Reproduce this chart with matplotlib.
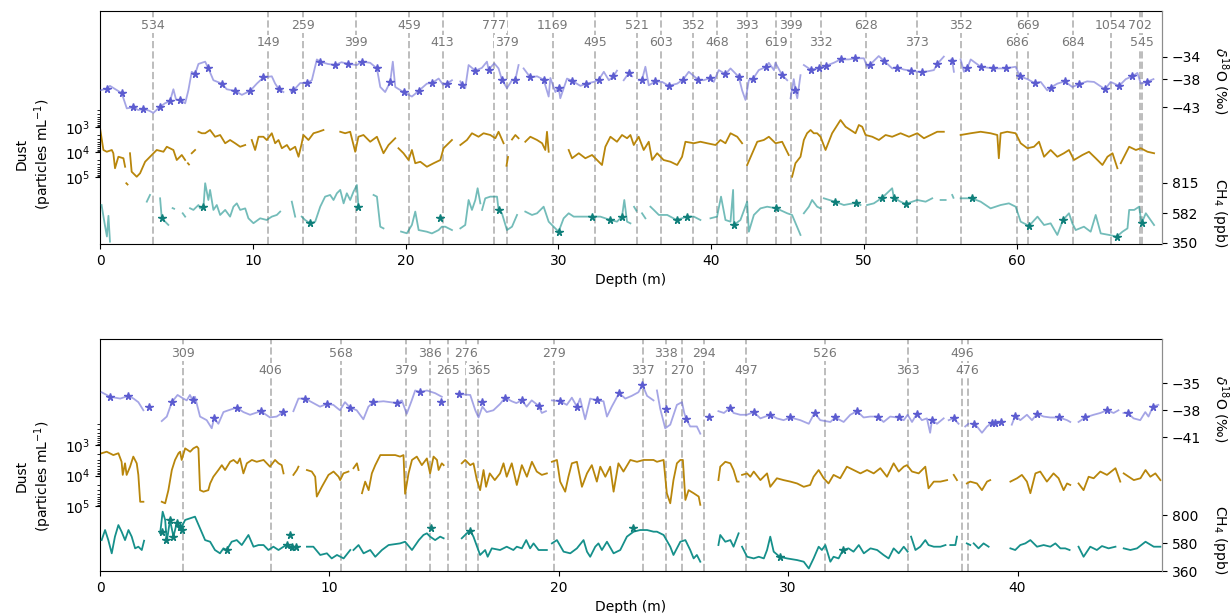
import numpy as np
import matplotlib.pyplot as plt
from matplotlib.ticker import FixedLocator, NullFormatter

nan = float('nan')
GAP = (nan, nan)

# ---------------- upper panel (0-69 m) ----------------
# (depth m, d18O permil)
top_o18 = [(0.0, -40.0), (0.44, -39.7), (0.65, -39.2), (1.0, -39.8), (1.42, -40.5), (1.75, -43.2),
           (2.18, -43.0), (2.5, -43.5), (2.84, -43.3), (3.2, -43.6), (3.49, -44.0), (3.93, -42.9),
           (4.25, -42.3), (4.58, -41.9), (4.8, -39.8), (4.98, -41.7), (5.24, -41.7), (5.57, -42.3),
           (5.78, -40.0), (6.0, -36.7), (6.22, -37.1), (6.44, -35.3), (6.88, -34.9), (7.09, -36.1),
           (7.42, -38.2), (7.97, -38.8), (8.29, -39.8), (8.84, -40.1), (9.28, -40.8), (9.82, -40.1),
           (10.26, -38.8), (10.69, -37.7), (11.24, -37.5), (11.46, -38.8), (11.68, -39.7), (12.0, -40.3),
           GAP, (12.5, -40.2), (12.66, -40.0), (13.1, -38.7), (13.53, -38.7), (13.86, -38.2),
           (14.19, -34.5), (14.41, -34.9), (14.9, -35.3), (15.39, -35.5), (15.8, -35.0), (16.26, -35.3),
           (16.81, -35.5), (17.13, -34.9), (17.68, -35.1), (18.12, -36.1), (18.34, -39.4), (18.66, -40.3),
           (18.99, -38.5), (19.16, -34.9), (19.32, -39.4), (19.86, -40.3), (20.41, -41.1), (20.85, -40.1),
           (21.39, -38.8), (21.72, -38.7), (22.16, -37.9), (22.45, -39.0), (22.7, -38.8), (23.03, -38.2),
           GAP, (23.58, -38.4), (23.69, -39.1), (23.9, -39.6), (24.12, -35.5), (24.56, -36.5),
           (24.99, -36.0), (25.32, -34.9), (25.43, -36.3), (25.8, -35.2), (26.08, -36.1), (26.3, -38.1),
           (26.63, -39.6), (26.96, -38.2), (27.18, -38.1), (27.39, -35.5), GAP, (27.72, -36.1),
           (28.16, -37.7), (28.6, -37.5), (29.03, -38.1), (29.36, -41.1), (29.47, -37.8), (29.8, -40.3),
           (30.01, -39.5), (30.12, -41.4), (30.56, -37.9), (30.89, -38.3), (31.44, -39.2), (31.83, -38.8),
           (32.31, -38.5), (32.64, -38.1), (32.97, -36.7), (33.3, -38.2), (33.6, -37.5), (33.83, -36.5),
           GAP, (34.27, -38.2), (34.59, -37.0), (34.82, -37.5), GAP, (35.25, -38.2), (35.47, -38.1),
           (35.69, -35.8), (35.91, -39.1), (36.35, -38.4), (36.79, -38.5), (37.22, -39.2), (37.77, -38.8),
           (38.15, -38.1), (38.53, -36.7), (39.14, -38.1), (39.5, -38.2), (39.94, -37.8), (40.16, -38.5),
           (40.49, -36.4), (40.93, -37.1), (41.26, -36.1), (41.8, -37.6), (42.02, -40.0), (42.24, -41.7),
           (42.46, -38.2), (42.72, -38.0), (43.11, -36.4), (43.61, -35.8), (43.77, -35.1), (44.1, -36.4),
           (44.2, -35.1), (44.64, -37.3), (44.97, -38.2), GAP, (45.19, -41.4), (45.4, -38.0),
           (45.51, -40.0), (45.63, -41.4), (45.84, -37.3), GAP, (46.06, -35.5), (46.5, -36.3),
           (47.04, -36.1), (47.54, -35.6), (48.02, -35.1), (48.46, -34.5), (49.0, -34.5), (49.44, -34.3),
           (49.99, -34.3), (50.2, -35.8), (50.37, -35.5), (50.96, -33.9), (51.29, -34.7), (51.84, -36.1),
           (52.17, -35.9), (52.6, -36.3), (53.05, -36.5), (53.81, -36.8), (54.57, -36.4), (54.79, -35.3),
           (55.22, -34.0), GAP, (55.7, -34.5), (55.77, -34.7), (55.88, -36.7), GAP, (56.32, -34.5),
           (56.54, -36.7), (56.76, -36.0), (56.98, -34.5), (57.63, -35.8), (58.46, -36.1), (59.27, -36.1),
           (59.92, -35.8), (60.2, -37.5), (60.69, -38.0), (61.16, -38.7), (61.56, -38.5), (61.99, -40.0),
           (62.21, -39.5), (62.65, -38.8), (63.13, -38.4), (63.63, -39.4), (64.07, -38.9), (64.6, -38.4),
           (65.05, -38.5), (65.77, -39.8), (66.14, -38.5), (66.69, -39.2), (67.13, -38.0), (67.56, -37.5),
           (67.89, -36.9), (68.11, -38.8), (68.5, -38.5), (68.94, -38.0)]

top_o18_stars = [(0.44, -39.7), (1.42, -40.5), (2.18, -43.0), (2.84, -43.3), (3.93, -42.9), (4.58, -41.9),
                 (5.24, -41.7), (6.22, -37.1), (7.09, -36.1), (7.97, -38.8), (8.84, -40.1), (9.82, -40.1),
                 (10.69, -37.7), (11.68, -39.7), (12.66, -40.0), (13.53, -38.7), (14.41, -34.9), (15.39, -35.5),
                 (16.26, -35.3), (17.13, -34.9), (18.12, -36.1), (18.99, -38.5), (19.86, -40.3), (20.85, -40.1),
                 (21.72, -38.7), (22.7, -38.8), (23.69, -39.1), (24.56, -36.5), (25.43, -36.3), (26.3, -38.1),
                 (27.18, -38.1), (28.16, -37.7), (29.03, -38.1), (30.01, -39.5), (30.89, -38.3), (31.83, -38.8),
                 (32.64, -38.1), (33.6, -37.5), (34.59, -37.0), (35.47, -38.1), (36.35, -38.4), (37.22, -39.2),
                 (38.15, -38.1), (39.14, -38.1), (39.94, -37.8), (40.93, -37.1), (41.8, -37.6), (42.72, -38.0),
                 (43.61, -35.8), (44.64, -37.3), (45.51, -40.0), (46.5, -36.3), (47.04, -36.1), (47.54, -35.6),
                 (48.46, -34.5), (49.44, -34.3), (50.37, -35.5), (51.29, -34.7), (52.17, -36.0), (53.05, -36.5),
                 (53.81, -36.8), (54.79, -35.3), (55.77, -34.7), (56.76, -36.0), (57.63, -35.8), (58.46, -36.1),
                 (59.27, -36.1), (60.2, -37.5), (61.16, -38.7), (62.21, -39.5), (63.13, -38.4), (64.07, -38.9),
                 (65.77, -39.8), (66.69, -39.2), (67.56, -37.5), (68.5, -38.5)]

# (depth m, log10 dust particles per mL)
top_dust = [(0.0, 3.05), (0.22, 3.92), (0.44, 3.99), (0.77, 3.92), (0.87, 4.05), (0.98, 4.65), (1.2, 4.19),
            (1.53, 4.25), (1.64, 4.59), GAP, (1.72, 5.25), (1.8, 5.3), GAP, (1.96, 4.05), (2.07, 4.79),
            (2.4, 4.99), (2.62, 4.85), (2.95, 4.39), (3.27, 4.19), (3.71, 3.92), (4.15, 3.99), (4.37, 3.79),
            (4.8, 3.92), (5.02, 4.32), (5.35, 4.12), (5.57, 4.32), GAP, (5.75, 4.45), (5.82, 4.5), GAP,
            (6.0, 4.05), (6.22, 3.92), GAP, (6.44, 3.19), (6.66, 3.25), (6.88, 3.25), (7.2, 3.12),
            (7.53, 3.39), (7.86, 3.32), (8.19, 3.65), (8.51, 3.52), (8.84, 3.65), (9.17, 3.79), (9.5, 3.72),
            GAP, (9.93, 3.52), (10.15, 3.92), (10.37, 3.39), (10.69, 3.39), (10.91, 3.52), (11.24, 3.25),
            (11.46, 3.65), (11.68, 3.52), (11.9, 3.85), (12.23, 3.72), (12.44, 3.92), (12.77, 3.79),
            (12.99, 4.19), (13.2, 3.65), (13.31, 3.32), (13.64, 3.52), (13.97, 3.25), (14.3, 3.19),
            (14.62, 3.12), GAP, (15.72, 3.19), (16.04, 3.25), (16.37, 3.19), (16.7, 3.99), (16.91, 3.39),
            (17.24, 3.32), (17.68, 3.59), (18.12, 3.39), (18.55, 4.05), (18.88, 3.72), (19.32, 3.45), GAP,
            (19.53, 3.85), (19.86, 4.05), (20.19, 4.32), (20.41, 3.92), (20.63, 4.45), (20.96, 4.39),
            (21.39, 4.59), (21.83, 4.45), (22.27, 4.32), (22.48, 3.85), (23.03, 3.52), GAP, (23.58, 3.72),
            (24.01, 3.52), (24.34, 3.25), (24.77, 3.39), (25.1, 3.25), (25.54, 3.32), (25.87, 3.45),
            (26.08, 3.19), (26.41, 3.65), GAP, (26.6, 4.55), (26.7, 4.2), GAP, (26.96, 3.5), (27.18, 3.32),
            (27.39, 3.45), GAP, (27.83, 3.59), (28.16, 3.39), (28.6, 3.52), (28.93, 3.65), (29.14, 3.92),
            (29.25, 3.19), (29.36, 3.99), GAP, (30.67, 3.92), (30.89, 4.25), (31.33, 4.05), (31.76, 4.25),
            (32.2, 4.12), (32.52, 4.32), (32.85, 4.52), (33.07, 3.79), (33.4, 3.39), (33.83, 3.59),
            (34.16, 3.32), (34.49, 3.45), (34.71, 3.32), (34.93, 3.72), (35.25, 3.39), (35.58, 3.92),
            (35.91, 3.59), (36.13, 4.32), (36.46, 4.05), (36.88, 4.32), (37.33, 4.39), (37.77, 4.52),
            (38.09, 4.19), (38.31, 3.59), (38.86, 3.65), (39.29, 3.59), (39.73, 3.65), (40.28, 3.72),
            (40.6, 3.52), (40.93, 3.65), (41.26, 3.25), (41.7, 3.39), (42.02, 3.65), GAP, (42.35, 4.52),
            (42.68, 4.05), (43.01, 3.59), (43.44, 3.52), (43.77, 3.39), (44.21, 3.65), (44.64, 3.59),
            (45.07, 4.12), GAP, (45.29, 4.99), (45.51, 4.45), (45.84, 4.19), (46.06, 3.52), (46.27, 3.25),
            (46.5, 3.12), (46.71, 3.25), (46.93, 3.25), (47.15, 3.39), (47.48, 3.92), (47.91, 3.25),
            (48.46, 2.72), (48.79, 2.99), (49.12, 3.12), (49.44, 3.25), (49.66, 2.92), (49.88, 2.99),
            (50.1, 3.32), (50.54, 3.39), (50.97, 3.52), (51.41, 3.32), (51.84, 3.39), (52.39, 3.25),
            (52.94, 3.39), (53.48, 3.25), (53.92, 3.45), (54.36, 3.32), (54.79, 3.19), (55.22, 3.19), GAP,
            (56.32, 3.32), (56.98, 3.25), (57.63, 3.19), (58.28, 3.25), (58.72, 3.32), (58.82, 4.25),
            (58.94, 3.25), (59.37, 3.19), (59.92, 3.25), (60.25, 3.65), (60.69, 3.85), (61.12, 3.79),
            (61.45, 3.59), (61.78, 4.19), (62.21, 3.92), (62.65, 4.19), (63.08, 4.05), (63.41, 3.92),
            (63.74, 4.32), (64.29, 4.12), (64.72, 3.99), (65.16, 4.25), (65.6, 4.52), (65.93, 4.19),
            (66.26, 4.05), (66.58, 4.65), GAP, (66.8, 4.45), (67.13, 4.05), (67.35, 3.79), (67.79, 3.92),
            (68.11, 3.85), (68.55, 3.99), (68.98, 4.05)]

# (depth m, CH4 ppb)
top_ch4 = [(0.1, 644), (0.3, 500), (0.45, 400), (0.55, 560), (0.65, 360), GAP, (3.06, 670), (3.27, 722), GAP,
           (3.93, 696), (4.04, 541), (4.26, 515), (4.47, 490), GAP, (4.75, 620), (4.85, 615), GAP,
           (5.41, 580), (5.57, 554), GAP, (5.89, 619), (6.11, 606), (6.44, 644), (6.55, 618), (6.77, 631),
           (6.88, 813), (7.09, 683), (7.2, 761), (7.42, 606), (7.64, 644), (7.86, 567), (8.19, 606),
           (8.51, 554), (8.73, 631), (8.95, 657), (9.17, 606), (9.5, 618), (9.71, 541), (10.04, 503),
           (10.48, 541), (10.91, 528), (11.24, 554), (11.57, 567), (11.79, 593), GAP, (12.55, 670),
           (12.77, 554), GAP, (13.2, 554), (13.42, 528), (13.75, 502), (14.08, 515), (14.41, 631),
           (14.73, 709), (15.06, 722), (15.28, 683), (15.5, 735), (15.72, 761), (15.94, 657), (16.15, 735),
           (16.37, 683), (16.59, 748), (16.81, 799), (16.91, 631), GAP, (17.9, 722), (18.12, 709),
           (18.34, 476), (18.55, 463), GAP, (19.7, 438), (20.08, 425), (20.41, 490), (20.63, 593),
           (20.85, 450), (21.39, 437), (21.72, 424), (22.16, 450), (22.37, 476), (22.59, 476), (23.03, 450),
           GAP, (23.58, 463), (23.9, 489), (24.12, 683), (24.34, 606), (24.56, 683), (24.71, 774),
           (24.89, 657), GAP, (25.0, 606), (25.21, 696), (25.54, 709), (25.98, 709), (26.08, 606),
           (26.3, 580), (26.63, 450), (26.96, 476), (27.29, 567), GAP, (27.83, 593), (28.27, 567),
           (28.6, 580), (29.03, 631), (29.36, 515), (29.69, 476), (30.01, 437), (30.34, 541), (30.67, 580),
           (31.0, 554), (31.55, 554), (32.2, 554), (32.74, 554), (33.4, 528), (33.83, 515), (34.16, 554),
           (34.31, 683), (34.49, 515), (34.71, 502), GAP, (34.95, 630), (35.1, 600), GAP, (35.47, 580),
           (35.69, 541), GAP, (36.02, 631), (36.24, 606), (36.57, 567), (37.12, 567), (37.73, 528),
           (38.43, 554), (38.86, 554), (39.29, 528), GAP, (39.95, 541), (40.38, 554), (40.64, 709),
           (40.93, 528), (41.26, 515), (41.43, 761), (41.48, 489), (41.91, 528), (42.35, 670), (42.46, 437),
           (42.79, 567), (43.22, 618), (43.66, 631), (44.27, 618), (44.97, 580), (45.29, 567), (45.84, 412),
           GAP, (46.06, 580), (46.39, 631), (46.6, 683), (46.93, 631), (47.15, 618), GAP, (47.37, 696),
           (48.09, 670), (48.68, 644), (49.5, 662), (49.77, 644), GAP, (50.2, 644), (50.64, 657),
           (51.19, 701), (51.84, 774), (51.95, 701), (52.39, 670), (52.72, 652), (53.16, 670), (53.48, 683),
           (54.03, 670), (54.46, 696), GAP, (55.01, 683), (55.34, 683), GAP, (55.77, 722), (55.85, 700),
           GAP, (56.32, 696), (57.04, 696), (57.63, 670), (58.28, 618), (58.94, 644), (59.48, 657),
           (59.92, 631), (60.25, 515), (60.8, 482), (61.35, 554), (61.78, 489), (62.21, 502), (62.65, 412),
           (63.02, 528), (63.41, 580), (63.63, 502), (63.85, 450), (64.39, 476), (64.83, 437), (65.16, 567),
           (65.49, 424), (66.04, 412), (66.54, 399), (66.91, 437), (67.24, 463), (67.35, 606), (67.68, 606),
           (68.0, 631), (68.16, 502), (68.44, 580), (68.98, 489)]

top_ch4_stars = [(4.04, 541), (6.77, 631), (13.75, 502), (16.91, 631), (22.22, 541), (26.08, 606),
                 (30.01, 437), (32.2, 554), (33.4, 528), (34.16, 554), (37.73, 528), (38.43, 554),
                 (41.48, 489), (44.27, 618), (48.09, 670), (49.5, 662), (51.19, 701), (51.95, 701),
                 (52.72, 652), (57.04, 696), (60.8, 482), (63.02, 528), (66.54, 399), (68.16, 502)]

top_marks = [3.44, 11.02, 13.27, 16.72, 20.24, 22.42, 25.8, 26.63, 29.62, 32.41, 35.14, 36.74, 38.79,
             40.38, 42.35, 44.22, 45.23, 47.19, 50.12, 53.47, 56.37, 59.99, 60.75, 63.67, 66.14, 68.06, 68.21]
top_mark_labels = ['534', '149', '259', '399', '459', '413', '777', '379', '1169', '495', '521', '603', '352',
                   '468', '393', '619', '399', '332', '628', '373', '352', '686', '669', '684', '1054', '702', '545']
top_mark_rows = [0, 1, 0, 1, 0, 1, 0, 1, 0, 1, 0, 1, 0, 1, 0, 1, 0, 1, 0, 1, 0, 1, 0, 1, 0, 0, 1]

# ---------------- lower panel (0-46 m) ----------------
bot_o18 = [(0.07, -36.0), (0.44, -36.5), (0.88, -36.7), (1.24, -36.4), (1.46, -36.7), (1.67, -37.1),
           (1.89, -38.0), GAP, (2.69, -39.2), (2.91, -38.7), (3.13, -37.1), (3.38, -36.3), (3.63, -36.7),
           (3.78, -36.9), (3.92, -36.3), (4.04, -36.9), (4.14, -36.5), (4.36, -38.7), (4.65, -39.1),
           (4.87, -40.0), (4.97, -38.9), (5.16, -39.5), (5.38, -38.2), (5.6, -38.0), (5.96, -37.7),
           (6.25, -38.2), (6.54, -38.5), (7.01, -38.1), (7.41, -38.8), (7.7, -38.7), (7.99, -38.2),
           (8.07, -38.6), GAP, (8.43, -38.1), (8.65, -36.7), (8.94, -36.7), (9.3, -37.2), (9.59, -37.6),
           (9.88, -37.3), (10.17, -37.4), (10.46, -38.0), (10.68, -37.1), (10.9, -37.7), (11.19, -38.0),
           (11.48, -39.0), (11.7, -37.6), (11.92, -37.1), (12.36, -37.0), (12.94, -37.2), (13.16, -36.9),
           (13.37, -38.4), (13.59, -36.9), (13.74, -35.8), (13.96, -36.0), (14.25, -35.8), (14.61, -36.1),
           (14.9, -36.5), GAP, (15.55, -36.2), (15.63, -36.2), (16.14, -36.3), (16.36, -38.0), (16.5, -38.8),
           (16.67, -37.6), (16.86, -38.2), (17.15, -38.0), (17.44, -37.3), (17.66, -36.6), (17.95, -37.0),
           (18.15, -37.2), (18.39, -36.9), (18.6, -37.6), (18.82, -36.9), (19.12, -37.5), (19.26, -38.3),
           (19.44, -38.1), GAP, (19.7, -36.9), (20.06, -37.0), (20.35, -37.4), (20.57, -36.6), (20.79, -37.6),
           (20.93, -36.7), (21.15, -39.0), (21.37, -36.7), (21.66, -36.9), (21.95, -37.0), (22.1, -38.7),
           (22.31, -37.6), (22.63, -36.1), (22.9, -36.7), (23.18, -36.4), (23.47, -36.0), (23.65, -35.2),
           (23.85, -36.4), (24.13, -36.9), GAP, (24.28, -35.8), (24.42, -37.8), (24.64, -40.0),
           (24.86, -39.6), (25.15, -37.4), (25.37, -37.1), (25.47, -38.3), (25.56, -39.0), (25.73, -39.8),
           (26.02, -39.8), (26.17, -40.6), GAP, (26.96, -38.1), (27.2, -38.3), (27.48, -37.7), (27.62, -38.3),
           (27.91, -38.5), (28.2, -38.5), (28.5, -38.2), (28.79, -38.9), (29.22, -38.5), (29.51, -38.9),
           (29.8, -39.1), (30.1, -38.8), (30.53, -39.1), (30.9, -39.5), (31.15, -38.3), (31.4, -39.1),
           (31.84, -39.3), (32.05, -38.8), (32.42, -39.3), (32.71, -38.5), (33.0, -38.1), (33.29, -38.8),
           (33.58, -38.7), (33.9, -38.7), (34.16, -39.3), (34.45, -38.7), (34.75, -38.8), (35.04, -39.1),
           (35.21, -38.5), (35.4, -39.3), (35.61, -38.4), (35.83, -39.1), (36.05, -38.9), (36.19, -40.5),
           (36.27, -39.1), (36.49, -39.5), (36.78, -38.9), GAP, (37.0, -39.1), (37.21, -38.9),
           (37.43, -39.5), GAP, (37.72, -39.8), (37.86, -39.5), GAP, (38.09, -39.5), (38.23, -39.8),
           (38.45, -40.5), (38.67, -39.8), (38.88, -39.4), (39.03, -39.4), (39.28, -39.3), (39.4, -39.3),
           GAP, (39.75, -39.6), (39.9, -38.6), (40.12, -39.1), (40.41, -38.5), (40.63, -39.1), (40.85, -38.4),
           (41.14, -38.7), (41.43, -38.8), (41.82, -38.8), (42.16, -39.1), (42.3, -39.3), GAP, (42.66, -39.3),
           (42.95, -38.8), (43.32, -38.5), (43.61, -38.3), (43.9, -38.0), (44.19, -38.3), (44.4, -38.0),
           GAP, (44.62, -38.3), (44.8, -38.3), (45.06, -38.9), (45.35, -39.1), (45.57, -38.2),
           (45.71, -38.7), (45.9, -37.6), (46.14, -37.4)]

bot_o18_stars = [(0.44, -36.5), (1.24, -36.4), (2.15, -37.6), (3.13, -37.1), (4.04, -36.9), (4.97, -38.9),
                 (5.96, -37.7), (7.01, -38.1), (7.99, -38.2), (8.94, -36.7), (9.88, -37.3), (10.9, -37.7),
                 (11.92, -37.1), (12.94, -37.2), (13.96, -36.0), (14.86, -37.1), (15.63, -36.2), (16.67, -37.1),
                 (17.66, -36.6), (18.39, -36.9), (19.12, -37.5), (20.06, -37.0), (20.79, -37.6), (21.66, -36.9),
                 (22.63, -36.1), (23.65, -35.2), (24.67, -37.9), (25.56, -39.0), (26.53, -38.8), (27.48, -37.7),
                 (28.5, -38.2), (29.22, -38.5), (30.1, -38.8), (31.15, -38.3), (32.05, -38.8), (33.0, -38.1),
                 (33.9, -38.7), (34.82, -38.8), (35.61, -38.4), (36.27, -39.1), (37.21, -38.9), (38.09, -39.5),
                 (38.88, -39.4), (39.03, -39.4), (39.28, -39.3), (39.9, -38.6), (40.85, -38.4), (41.82, -38.8),
                 (42.95, -38.8), (43.9, -38.0), (44.8, -38.3), (45.9, -37.6)]

bot_dust = [(0.07, 3.27), (0.29, 3.22), (0.58, 3.33), (0.8, 3.27), (0.94, 3.55), (0.99, 3.98), (1.09, 3.6),
            (1.16, 3.98), (1.31, 3.71), (1.45, 3.38), (1.6, 3.6), (1.67, 3.98), (1.75, 4.86), (1.89, 4.86),
            GAP, (2.69, 4.86), (2.84, 4.91), (2.98, 4.48), (3.13, 3.82), (3.27, 3.49), (3.42, 3.27),
            (3.49, 3.22), (3.56, 3.49), (3.71, 3.11), (3.93, 3.22), (4.07, 3.11), (4.22, 3.05), (4.29, 3.11),
            (4.36, 4.48), (4.51, 4.53), (4.72, 4.48), (4.8, 4.26), (4.94, 4.04), (5.16, 3.82), (5.31, 3.66),
            (5.45, 3.82), (5.67, 3.55), (5.82, 3.49), (5.99, 3.6), (6.1, 3.44), (6.25, 3.93), (6.4, 3.6),
            (6.62, 3.49), (6.83, 3.55), (7.13, 3.49), (7.27, 3.6), (7.41, 3.71), (7.63, 3.49), (7.78, 3.6),
            (7.92, 3.66), (8.0, 3.93), GAP, (8.43, 3.98), (8.58, 3.82), (8.65, 3.71), GAP, (9.02, 3.82),
            (9.23, 3.87), (9.38, 4.04), (9.45, 4.69), (9.67, 4.37), (9.96, 3.98), (10.18, 3.87), (10.4, 4.04),
            (10.47, 4.15), (10.61, 3.93), (10.83, 3.87), GAP, (11.05, 3.76), (11.2, 3.6), (11.27, 3.82), GAP,
            (11.42, 4.58), (11.56, 4.2), (11.71, 4.48), (11.85, 3.93), (12.0, 3.66), (12.22, 3.33),
            (12.51, 3.33), (12.87, 3.33), (13.08, 3.38), (13.23, 3.33), (13.3, 4.6), (13.45, 3.93),
            (13.6, 3.49), (13.81, 3.38), (14.03, 3.66), (14.25, 3.44), (14.39, 3.93), (14.54, 3.38),
            (14.69, 3.49), (14.76, 3.82), (14.9, 3.6), (14.98, 3.66), GAP, (15.77, 3.6), (15.92, 3.49),
            (16.14, 3.66), (16.28, 3.6), (16.43, 4.15), (16.57, 4.48), (16.72, 3.82), (16.83, 4.37),
            (16.99, 3.93), (17.21, 4.15), (17.44, 3.93), (17.59, 3.6), (17.73, 4.04), (17.95, 3.6),
            (18.17, 4.31), (18.39, 3.66), (18.61, 4.04), (18.83, 3.55), (19.04, 3.87), (19.26, 3.98),
            (19.48, 3.93), GAP, (19.7, 3.55), (19.92, 3.49), (20.06, 4.2), (20.28, 4.53), (20.42, 4.04),
            (20.57, 3.6), (20.79, 3.55), (21.01, 4.37), (21.23, 3.93), (21.44, 3.66), (21.66, 4.2),
            (21.81, 3.71), (22.03, 4.04), (22.24, 3.71), (22.39, 4.53), (22.6, 3.6), (22.82, 3.87),
            (23.12, 3.49), (23.41, 3.55), (23.7, 3.49), (24.13, 3.49), (24.28, 3.55), (24.57, 3.49),
            (24.71, 4.58), (24.86, 4.91), (25.0, 4.15), (25.15, 3.6), (25.3, 3.49), (25.41, 3.49),
            (25.52, 4.8), (25.66, 4.48), (25.88, 4.58), (26.1, 4.69), (26.17, 4.96), GAP, (26.96, 4.15),
            (27.04, 3.71), (27.26, 3.55), (27.48, 3.6), (27.62, 3.82), (27.77, 4.2), (27.84, 4.2), GAP,
            (27.99, 3.98), (28.21, 3.93), (28.35, 4.04), (28.5, 3.87), (28.79, 4.15), (29.08, 3.93),
            (29.22, 4.37), (29.51, 4.09), (29.8, 4.15), (30.1, 4.2), (30.39, 4.26), (30.68, 4.37),
            (30.96, 4.31), (31.11, 4.04), (31.33, 3.82), (31.55, 4.09), (31.76, 4.26), (31.98, 3.98),
            (32.27, 4.09), (32.56, 3.71), (32.85, 3.82), (33.15, 3.93), (33.44, 3.82), (33.73, 3.93),
            (34.02, 3.76), (34.31, 4.04), (34.6, 3.6), (34.82, 3.87), (35.04, 3.71), (35.18, 3.66),
            (35.4, 3.87), (35.69, 3.93), (35.98, 3.71), (36.12, 4.42), (36.35, 4.2), (36.64, 4.2),
            (36.93, 4.15), GAP, (37.22, 3.98), (37.36, 4.15), GAP, (37.79, 4.26), (37.94, 4.2), (38.23, 4.26),
            (38.45, 4.48), (38.67, 4.2), (38.81, 4.15), GAP, (39.69, 4.2), (39.98, 4.09), (40.19, 3.98),
            (40.41, 4.2), (40.56, 4.58), (40.78, 3.93), (40.99, 3.87), (41.28, 4.2), (41.57, 3.93),
            (41.79, 4.09), (42.01, 4.48), (42.16, 4.26), (42.3, 4.31), GAP, (42.66, 4.26), (42.88, 4.48),
            (43.1, 4.04), (43.32, 4.09), (43.61, 3.87), (43.9, 3.98), (44.27, 3.76), (44.48, 4.2), GAP,
            (44.63, 3.93), (44.85, 4.04), (45.07, 4.15), (45.36, 4.09), (45.58, 3.82), (45.79, 4.04),
            (46.01, 3.93), (46.23, 4.15)]

bot_ch4 = [(0.07, 603), (0.22, 682), (0.36, 603), (0.51, 499), (0.65, 630), (0.8, 721), (0.94, 669),
           (1.09, 603), (1.24, 682), (1.38, 630), (1.53, 538), (1.67, 551), (1.82, 525), (1.92, 598), GAP,
           (2.62, 656), (2.73, 826), (2.84, 761), (2.91, 590), (3.05, 761), (3.2, 630), (3.34, 734),
           (3.49, 682), (3.71, 761), (3.93, 774), (4.14, 787), (4.36, 695), (4.58, 603), (4.8, 590),
           (5.01, 525), (5.23, 499), (5.38, 538), (5.52, 525), (5.74, 590), (5.96, 603), (6.18, 564),
           (6.47, 643), (6.69, 551), (6.91, 564), (7.13, 564), (7.34, 525), (7.56, 551), (7.78, 525),
           (8.0, 551), (8.14, 564), (8.43, 525), GAP, (9.02, 551), (9.3, 551), (9.6, 486), (9.89, 499),
           (10.1, 459), (10.33, 486), (10.62, 459), (10.91, 525), GAP, (11.05, 525), (11.27, 564),
           (11.49, 499), (11.78, 525), (12.0, 472), (12.29, 525), (12.58, 564), (13.08, 577), (13.3, 590),
           (13.6, 525), (13.9, 603), (14.1, 643), (14.25, 656), (14.39, 630), (14.61, 603), (14.83, 630),
           (14.98, 617), GAP, (15.77, 617), (15.99, 656), (16.14, 677), (16.28, 630), (16.57, 486),
           (16.79, 525), (16.9, 472), (17.08, 538), (17.44, 525), (17.73, 551), (18.02, 525), (18.17, 551),
           (18.39, 538), (18.58, 603), (18.75, 538), (18.9, 577), (19.12, 525), (19.48, 525), GAP,
           (19.7, 577), (19.92, 603), (20.21, 512), (20.5, 499), (20.79, 538), (21.08, 603), (21.23, 512),
           (21.37, 472), (21.59, 551), (21.73, 577), (21.88, 525), (22.1, 590), (22.39, 499), (22.68, 525),
           (22.97, 630), (23.26, 669), (23.55, 682), (23.85, 682), (24.13, 669), (24.28, 669), (24.57, 643),
           (24.86, 551), (25.0, 486), (25.3, 590), (25.52, 603), (25.73, 525), (25.88, 459), (26.02, 486),
           (26.17, 433), GAP, (26.96, 564), (27.04, 643), (27.26, 590), (27.48, 603), (27.62, 551),
           (27.84, 656), GAP, (27.99, 551), (28.21, 472), (28.5, 459), (28.72, 472), (28.94, 459),
           (29.08, 525), (29.22, 630), (29.37, 512), (29.63, 472), (29.95, 459), (30.39, 446), (30.68, 433),
           (30.9, 380), (31.11, 459), (31.33, 551), (31.47, 525), (31.62, 564), (31.84, 433), (31.98, 472),
           (32.2, 459), (32.39, 525), (32.63, 538), (32.85, 512), (33.08, 564), (33.3, 499), (33.59, 538),
           (33.88, 525), (34.16, 486), (34.38, 459), (34.6, 538), (34.82, 499), (35.04, 551), (35.21, 512),
           GAP, (35.36, 630), (35.55, 525), (35.76, 551), (35.98, 603), (36.12, 564), (36.35, 551),
           (36.64, 551), (36.86, 564), GAP, (37.07, 564), (37.29, 564), (37.36, 630), GAP, (37.79, 577),
           (37.94, 564), GAP, (38.09, 577), (38.3, 538), (38.52, 577), (38.74, 551), GAP, (39.69, 538),
           (39.9, 525), (40.12, 564), (40.34, 577), (40.56, 603), (40.85, 551), (41.14, 564), (41.43, 551),
           (41.65, 577), (41.87, 538), (42.08, 538), (42.27, 525), GAP, (42.66, 551), (42.88, 472),
           (43.17, 551), (43.46, 525), (43.68, 556), (43.97, 538), (44.27, 551), GAP, (44.63, 538),
           (44.92, 525), (45.21, 538), (45.58, 590), (45.94, 551), (46.23, 551)]

bot_ch4_stars = [(2.7, 669), (2.86, 603), (3.05, 761), (3.2, 630), (3.34, 740), (3.49, 708), (3.56, 682),
                 (5.52, 525), (8.14, 564), (8.28, 643), (8.38, 551), (8.53, 551), (14.42, 695), (16.14, 677),
                 (23.22, 695), (29.63, 472), (32.39, 525)]

bot_marks = [3.63, 7.44, 10.5, 13.35, 14.39, 15.19, 15.95, 16.5, 19.8, 23.69, 24.67, 25.38, 26.35, 28.16,
             31.59, 35.21, 37.58, 37.83]
bot_mark_labels = ['309', '406', '568', '379', '386', '265', '276', '365', '279', '337', '338', '270', '294',
                   '497', '526', '363', '496', '476']
bot_mark_rows = [0, 1, 0, 1, 0, 1, 0, 1, 0, 1, 0, 1, 0, 1, 0, 1, 0, 1]


def xy(pairs):
    a = np.array(pairs, dtype=float)
    return a[:, 0], a[:, 1]


fig = plt.figure(figsize=(12.32, 6.13), dpi=100)


def draw_panel(rect, xmax, o18, o18_st, dust, ch4, ch4_st, ch4_alpha, marks, labels, rows,
               o18_lim, o18_ticks, dust_lim, ch4_lim, ch4_ticks, dust_label_y):
    ax = fig.add_axes(rect)
    ax_o = ax.twinx()
    ax_c = ax.twinx()

    # sample markers
    for x, lab, r in zip(marks, labels, rows):
        ax.axvline(x, color='#bdbdbd', ls='--', lw=1.4, zorder=0)
        ax.text(x, 0.937 if r == 0 else 0.866, lab, transform=ax.get_xaxis_transform(),
                ha='center', va='center', fontsize=9, color='#777777',
                bbox=dict(facecolor='white', edgecolor='none', pad=0.5), zorder=1)

    d, v = xy(dust)
    ax.plot(d, 10 ** v, color='#b8860b', lw=1.3, zorder=2)
    ax.set_yscale('log')
    ax.set_ylim(*dust_lim)
    ax.set_yticks([1e3, 1e4, 1e5])
    ax.yaxis.set_minor_locator(FixedLocator([k * 10.0 ** e for e in (2, 3, 4) for k in range(2, 10)]))
    ax.yaxis.set_minor_formatter(NullFormatter())
    ax.set_xlim(0, xmax)
    ax.set_xlabel('Depth (m)', fontsize=10)
    ax.tick_params(labelsize=10)
    ax.spines['right'].set_visible(False)
    ax.text(-0.062, dust_label_y, 'Dust\n(particles mL$^{-1}$)', transform=ax.transAxes, rotation=90,
            ha='center', va='center', multialignment='center', fontsize=10)

    d, v = xy(o18)
    ax_o.plot(d, v, color='#6a6ad5', alpha=0.6, lw=1.3)
    d, v = xy(o18_st)
    ax_o.plot(d, v, ls='none', marker='*', ms=5.5, color='#5c5cd0')
    ax_o.set_ylim(*o18_lim)
    ax_o.set_yticks(o18_ticks)

    d, v = xy(ch4)
    ax_c.plot(d, v, color='#16908b', alpha=ch4_alpha, lw=1.3)
    d, v = xy(ch4_st)
    ax_c.plot(d, v, ls='none', marker='*', ms=5.5, color='#0f7f7a')
    ax_c.set_ylim(*ch4_lim)
    ax_c.set_yticks(ch4_ticks)

    for tw in (ax_o, ax_c):
        for s in ('top', 'left', 'bottom'):
            tw.spines[s].set_visible(False)
        tw.spines['right'].set_color('#8c8c8c')
        tw.tick_params(labelsize=10)

    ax.text(1.055, 0.70, r'$\delta^{18}$O (‰)', transform=ax.transAxes, rotation=270,
            ha='center', va='center', fontsize=10)
    ax.text(1.055, 0.134, 'CH$_4$ (ppb)', transform=ax.transAxes, rotation=270,
            ha='center', va='center', fontsize=10)
    return ax


draw_panel([0.0812, 0.602, 0.862, 0.380], 69.5, top_o18, top_o18_stars, top_dust, top_ch4, top_ch4_stars, 0.6,
           top_marks, top_mark_labels, top_mark_rows,
           (-67.3, -25.9), [-43, -38, -34], (10 ** 7.68, 10 ** -1.64), (342, 2148), [350, 582, 815], 0.385)

draw_panel([0.0812, 0.0685, 0.862, 0.3785], 46.3, bot_o18, bot_o18_stars, bot_dust, bot_ch4, bot_ch4_stars, 1.0,
           bot_marks, bot_mark_labels, bot_mark_rows,
           (-55.86, -30.08), [-41, -38, -35], (10 ** 7.13, 10 ** -0.475), (360, 2183), [360, 580, 800], 0.41)

fig.savefig('out.png', dpi=100)
